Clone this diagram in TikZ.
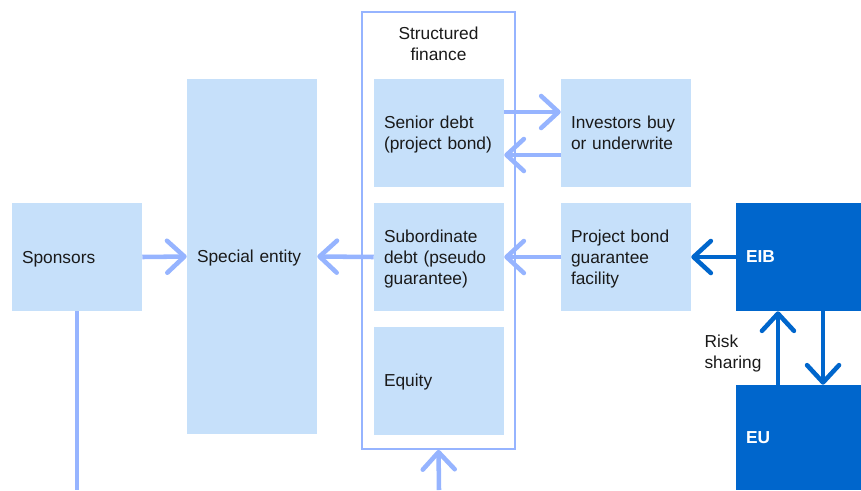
\documentclass[tikz,border=0pt]{standalone}
\usepackage{fontspec}
\setmainfont{Liberation Sans}
\usetikzlibrary{arrows.meta,calc}
\definecolor{boxfill}{HTML}{C6E0FA}
\definecolor{arrlight}{HTML}{96B4FF}
\definecolor{dark}{HTML}{0066CC}
\definecolor{txt}{HTML}{1A1A1A}
\begin{document}
\begin{tikzpicture}[x=0.75pt,y=-0.75pt,
  box/.style={fill=boxfill, minimum width=97.5pt, minimum height=81pt, inner xsep=7.5pt, inner ysep=0pt,
    text width=82.5pt, align=left, text=txt, font=\fontsize{13}{15.75}\selectfont, text depth=0pt},
  two/.style={text depth=15.75pt},
  three/.style={text depth=31.5pt},
  darkbox/.style={box, fill=dark, text=white, font=\fontsize{13}{15.75}\selectfont\bfseries},
  larr/.style={draw=arrlight, line width=3.4pt, -{Straight Barb[length=13pt,width=24pt,line cap=round,line join=round]}},
  darr/.style={larr, draw=dark},
  lline/.style={draw=arrlight, line width=3.4pt},
  lbl/.style={text=txt, font=\fontsize{13}{15.75}\selectfont, align=left, inner sep=0pt}
]
\useasboundingbox (0,0) rectangle (861,490);
% outer structured finance frame
\node[draw=arrlight, line width=1.3pt, fill=white, minimum width=114.75pt, minimum height=327.75pt, inner sep=0pt] (sf) at (438.5,230.5) {};
\node[lbl, align=center] (sft) at (438.5,44) {Structured\\finance};
% boxes
\node[box] (sp) at (77,257) {Sponsors};
\node[box, minimum height=266.25pt] (se) at (252,256.5) {Special entity};
\node[box, two] (sd) at (439,133) {Senior debt\\(project bond)};
\node[box, three] (sub) at (439,257) {Subordinate\\debt (pseudo\\guarantee)};
\node[box] (eq) at (439,380.5) {Equity};
\node[box, two] (inv) at (626,133) {Investors buy\\or underwrite};
\node[box, three] (pb) at (626,257) {Project bond\\guarantee\\facility};
\node[darkbox, minimum width=93.75pt, text width=78.75pt] (eib) at (798.5,257) {EIB};
\node[darkbox, minimum width=93.75pt, text width=78.75pt, minimum height=78.75pt] (eu) at (798.5,437.5) {EU};
\node[lbl] (risk) at (733,354) {Risk\\sharing};
% free ends
\coordinate (spbot) at (77,490);
\coordinate (sfbot) at (439,490);
% connectors
\draw[larr] (sp.east) -- (se.west);
\draw[larr] (sub.west) -- (se.east);
\draw[larr] (pb.west) -- (sub.east);
\draw[darr] (eib.west) -- (pb.east);
\draw[larr] ([yshift=15.75pt]sd.east) -- ([yshift=15.75pt]inv.west);
\draw[larr] ([yshift=-16.5pt]inv.west) -- ([yshift=-16.5pt]sd.east);
\draw[darr] ([xshift=-15.4pt]eu.north) -- ([xshift=-15.4pt]eib.south);
\draw[darr] ([xshift=18.4pt]eib.south) -- ([xshift=18.4pt]eu.north);
\draw[lline] (sp.south) -- (spbot);
\draw[larr] (sfbot) -- (sf.south);
\end{tikzpicture}
\end{document}
